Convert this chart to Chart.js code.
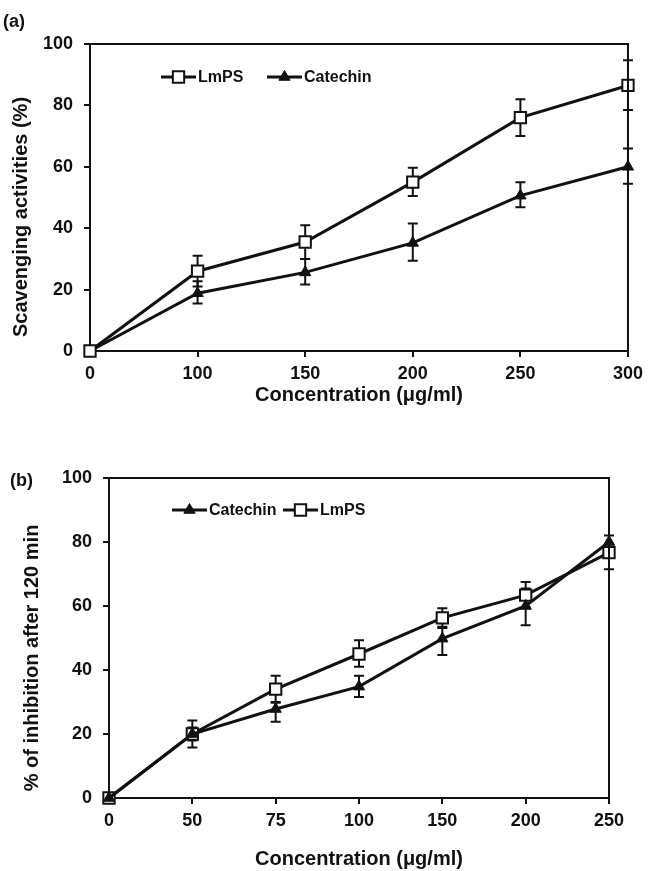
<!DOCTYPE html>
<html>
<head>
<meta charset="utf-8">
<script src="https://cdn.jsdelivr.net/npm/chart.js@4.4.0/dist/chart.umd.min.js"></script>
<style>
  body { margin: 0; background: #fff; width: 649px; height: 871px; position: relative; overflow: hidden; font-family: "Liberation Sans", Arial, sans-serif; }
  .panel { position: absolute; left: 0; width: 649px; }
  .tag { position: absolute; font-weight: bold; font-size: 18px; color: #111; line-height: 1.2; }
</style>
</head>
<body>
<div class="panel" style="top:0;height:430px"><canvas id="chartA" width="649" height="430"></canvas></div>
<div class="panel" style="top:430px;height:441px"><canvas id="chartB" width="649" height="441"></canvas></div>
<div class="tag" style="left:3px;top:11px">(a)</div>
<div class="tag" style="left:10px;top:470px">(b)</div>
<script>
  // (a) scavenging activities
  var a_labels = ['0', '100', '150', '200', '250', '300'];
  var a_lmps = [0, 26, 35.5, 55, 76, 86.5];
  var a_lmps_hi = [0, 31, 41, 59.7, 82, 94.7];
  var a_lmps_lo = [0, 21, 30, 50.5, 70, 78.5];
  var a_cat = [0, 18.8, 25.6, 35.2, 50.6, 60];
  var a_cat_hi = [0, 22.7, 30, 41.5, 55, 66];
  var a_cat_lo = [0, 15.5, 21.7, 29.4, 46.8, 54.5];

  // (b) % of inhibition after 120 min
  var b_labels = ['0', '50', '75', '100', '150', '200', '250'];
  var b_cat = [0, 20, 27.8, 34.8, 49.8, 60, 80];
  var b_cat_hi = [0, 22, 29.8, 38.2, 53.5, 65.5, 82];
  var b_cat_lo = [0, 18, 23.8, 31.6, 44.7, 54, 78];
  var b_lmps = [0, 20, 34, 45, 56.3, 63.4, 76.7];
  var b_lmps_hi = [0, 24.2, 38.2, 49.3, 59.3, 67.5, 79.5];
  var b_lmps_lo = [0, 15.8, 30, 41, 53.1, 59.5, 71.5];

  var INK = '#111';
  Chart.defaults.font.family = '"Liberation Sans", Arial, sans-serif';
  Chart.defaults.color = INK;

  // Error bars drawn under the lines
  var errorBars = {
    id: 'errorBars',
    beforeDatasetsDraw: function(chart) {
      var ctx = chart.ctx;
      var yScale = chart.scales.y;
      chart.data.datasets.forEach(function(ds, i) {
        var meta = chart.getDatasetMeta(i);
        ctx.save();
        ctx.strokeStyle = INK;
        ctx.lineWidth = 2;
        meta.data.forEach(function(pt, j) {
          if (ds.errHi[j] === ds.errLo[j]) return;
          var yt = yScale.getPixelForValue(ds.errHi[j]);
          var yb = yScale.getPixelForValue(ds.errLo[j]);
          ctx.beginPath();
          ctx.moveTo(pt.x, yt);
          ctx.lineTo(pt.x, yb);
          ctx.moveTo(pt.x - 5, yt);
          ctx.lineTo(pt.x + 5, yt);
          ctx.moveTo(pt.x - 5, yb);
          ctx.lineTo(pt.x + 5, yb);
          ctx.stroke();
        });
        ctx.restore();
      });
    }
  };

  // Top and right sides of the plot box, rotated y title, line legend
  var decorations = {
    id: 'decorations',
    afterDraw: function(chart, args, opts) {
      var ctx = chart.ctx;
      var area = chart.chartArea;
      ctx.save();
      ctx.strokeStyle = INK;
      ctx.lineWidth = 2;
      ctx.beginPath();
      ctx.moveTo(area.left, area.top);
      ctx.lineTo(area.right, area.top);
      ctx.lineTo(area.right, area.bottom);
      ctx.stroke();

      ctx.fillStyle = INK;
      ctx.font = 'bold 20px "Liberation Sans", Arial, sans-serif';
      ctx.textAlign = 'center';
      ctx.textBaseline = 'middle';
      ctx.translate(opts.titleX, opts.titleY);
      ctx.rotate(-Math.PI / 2);
      ctx.fillText(opts.yTitle, 0, 0);
      ctx.restore();

      ctx.save();
      ctx.font = 'bold 16px "Liberation Sans", Arial, sans-serif';
      ctx.textAlign = 'left';
      ctx.textBaseline = 'middle';
      opts.legend.forEach(function(item) {
        var ds = chart.data.datasets[item.index];
        ctx.strokeStyle = ds.borderColor;
        ctx.lineWidth = ds.borderWidth;
        ctx.beginPath();
        ctx.moveTo(item.x0, opts.legendY);
        ctx.lineTo(item.x1, opts.legendY);
        ctx.stroke();
        ctx.fillStyle = ds.pointBackgroundColor;
        ctx.strokeStyle = ds.pointBorderColor;
        ctx.lineWidth = ds.pointBorderWidth;
        Chart.helpers.drawPoint(ctx, {
          pointStyle: ds.pointStyle,
          radius: ds.pointRadius,
          borderWidth: ds.pointBorderWidth,
          rotation: 0
        }, (item.x0 + item.x1) / 2, opts.legendY);
        ctx.fillStyle = INK;
        ctx.fillText(ds.label, item.x1 + 2, opts.legendY + 1);
      });
      ctx.restore();
    }
  };

  var lmpsStyle = function(data, hi, lo) {
    return {
      label: 'LmPS',
      data: data,
      errHi: hi,
      errLo: lo,
      borderColor: INK,
      borderWidth: 3,
      pointStyle: 'rect',
      pointRadius: 8,
      pointBackgroundColor: '#fff',
      pointBorderColor: INK,
      pointBorderWidth: 2,
      tension: 0,
      clip: false
    };
  };

  var catStyle = function(data, hi, lo) {
    return {
      label: 'Catechin',
      data: data,
      errHi: hi,
      errLo: lo,
      borderColor: INK,
      borderWidth: 3,
      pointStyle: 'triangle',
      pointRadius: 6.5,
      pointBackgroundColor: INK,
      pointBorderColor: INK,
      pointBorderWidth: 1,
      tension: 0,
      clip: false
    };
  };

  var makeOptions = function(cfg) {
    return {
      responsive: false,
      animation: false,
      devicePixelRatio: 1,
      events: [],
      layout: { padding: { top: cfg.top, right: cfg.right, left: 0, bottom: 0 } },
      plugins: {
        legend: { display: false },
        tooltip: { enabled: false },
        decorations: cfg.deco
      },
      scales: {
        x: {
          type: 'category',
          offset: false,
          grid: { drawOnChartArea: false, tickLength: 6, color: INK, lineWidth: 2 },
          border: { color: INK, width: 2 },
          ticks: { color: INK, font: { size: 18, weight: 'bold' }, padding: 6, maxRotation: 0, autoSkip: false },
          title: {
            display: true,
            text: 'Concentration (μg/ml)',
            color: INK,
            font: { size: 20, weight: 'bold' },
            padding: { top: 0, bottom: cfg.titlePad }
          },
          afterFit: function(scale) {
            scale.height = cfg.xHeight;
          }
        },
        y: {
          min: 0,
          max: 100,
          grid: { drawOnChartArea: false, tickLength: 6, color: INK, lineWidth: 2 },
          border: { color: INK, width: 2 },
          ticks: { stepSize: 20, color: INK, font: { size: 18, weight: 'bold' }, padding: 11 },
          afterFit: function(scale) {
            scale.width = cfg.yWidth;
          }
        }
      }
    };
  };

  new Chart(document.getElementById('chartA').getContext('2d'), {
    type: 'line',
    data: {
      labels: a_labels,
      datasets: [
        lmpsStyle(a_lmps, a_lmps_hi, a_lmps_lo),
        catStyle(a_cat, a_cat_hi, a_cat_lo)
      ]
    },
    options: makeOptions({
      top: 44,
      right: 19,
      yWidth: 90,
      xHeight: 79,
      titlePad: 23,
      deco: {
        yTitle: 'Scavenging activities (%)',
        titleX: 21,
        titleY: 217,
        legendY: 77,
        legend: [
          { index: 0, x0: 161, x1: 196 },
          { index: 1, x0: 267, x1: 302 }
        ]
      }
    }),
    plugins: [errorBars, decorations]
  });

  new Chart(document.getElementById('chartB').getContext('2d'), {
    type: 'line',
    data: {
      labels: b_labels,
      datasets: [
        catStyle(b_cat, b_cat_hi, b_cat_lo),
        lmpsStyle(b_lmps, b_lmps_hi, b_lmps_lo)
      ]
    },
    options: makeOptions({
      top: 48,
      right: 40,
      yWidth: 109,
      xHeight: 73,
      titlePad: 0,
      deco: {
        yTitle: '% of inhibition after 120 min',
        titleX: 32,
        titleY: 228,
        legendY: 80,
        legend: [
          { index: 0, x0: 172, x1: 207 },
          { index: 1, x0: 283, x1: 318 }
        ]
      }
    }),
    plugins: [errorBars, decorations]
  });
</script>
</body>
</html>
